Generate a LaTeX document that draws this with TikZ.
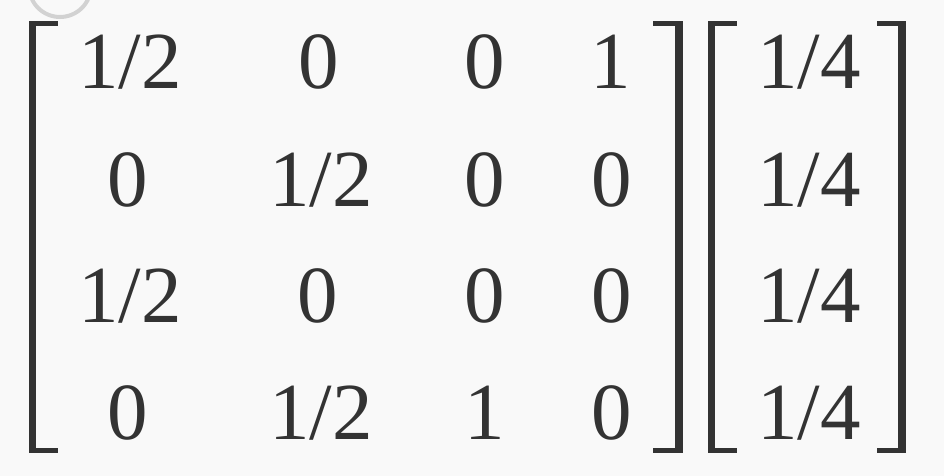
\documentclass[tikz,border=0pt]{standalone}
\usepackage{fontspec}
\setmainfont{Liberation Serif}
\definecolor{ink}{HTML}{333333}
\definecolor{bg}{HTML}{F9F9F9}
\definecolor{ring}{HTML}{D2D2D2}
\begin{document}
\begin{tikzpicture}[x=1pt,y=-1pt,
  entry/.style={anchor=base,inner sep=0pt,text=ink,font=\fontsize{81}{81}\selectfont},
  brk/.style={fill=ink,draw=none}]
\useasboundingbox (0,0) rectangle (944,476);
\fill[bg] (0,0) rectangle (944,476);
% partial circle at top left
\begin{scope}
\clip (0,0) rectangle (944,476);
\draw[ring,line width=4pt,fill=bg] (60,-14) circle (31);
\end{scope}
% brackets
\fill[brk] (29,21) rectangle (36,453);
\fill[brk] (29,21) rectangle (58,26);
\fill[brk] (29,448) rectangle (58,453);
\fill[brk] (675,21) rectangle (683,453);
\fill[brk] (653,21) rectangle (683,26);
\fill[brk] (653,448) rectangle (683,453);
\fill[brk] (708,21) rectangle (715,453);
\fill[brk] (708,21) rectangle (737,26);
\fill[brk] (708,448) rectangle (737,453);
\fill[brk] (898,21) rectangle (906,453);
\fill[brk] (877,21) rectangle (906,26);
\fill[brk] (877,448) rectangle (906,453);
% matrix entries
\node[entry] (a11) at (130,89) {1/2};
\node[entry] (a12) at (319,89) {0};
\node[entry] (a13) at (485,89) {0};
\node[entry] (a14) at (611,89) {1};
\node[entry] (a21) at (128,206) {0};
\node[entry] (a22) at (321,206) {1/2};
\node[entry] (a23) at (485,206) {0};
\node[entry] (a24) at (612,206) {0};
\node[entry] (a31) at (130,322) {1/2};
\node[entry] (a32) at (318,322) {0};
\node[entry] (a33) at (485,322) {0};
\node[entry] (a34) at (612,322) {0};
\node[entry] (a41) at (128,439) {0};
\node[entry] (a42) at (321,439) {1/2};
\node[entry] (a43) at (485,439) {1};
\node[entry] (a44) at (612,439) {0};
% vector entries
\node[entry] (v1) at (809,89) {1/4};
\node[entry] (v2) at (809,206) {1/4};
\node[entry] (v3) at (809,322) {1/4};
\node[entry] (v4) at (809,439) {1/4};
\end{tikzpicture}
\end{document}
